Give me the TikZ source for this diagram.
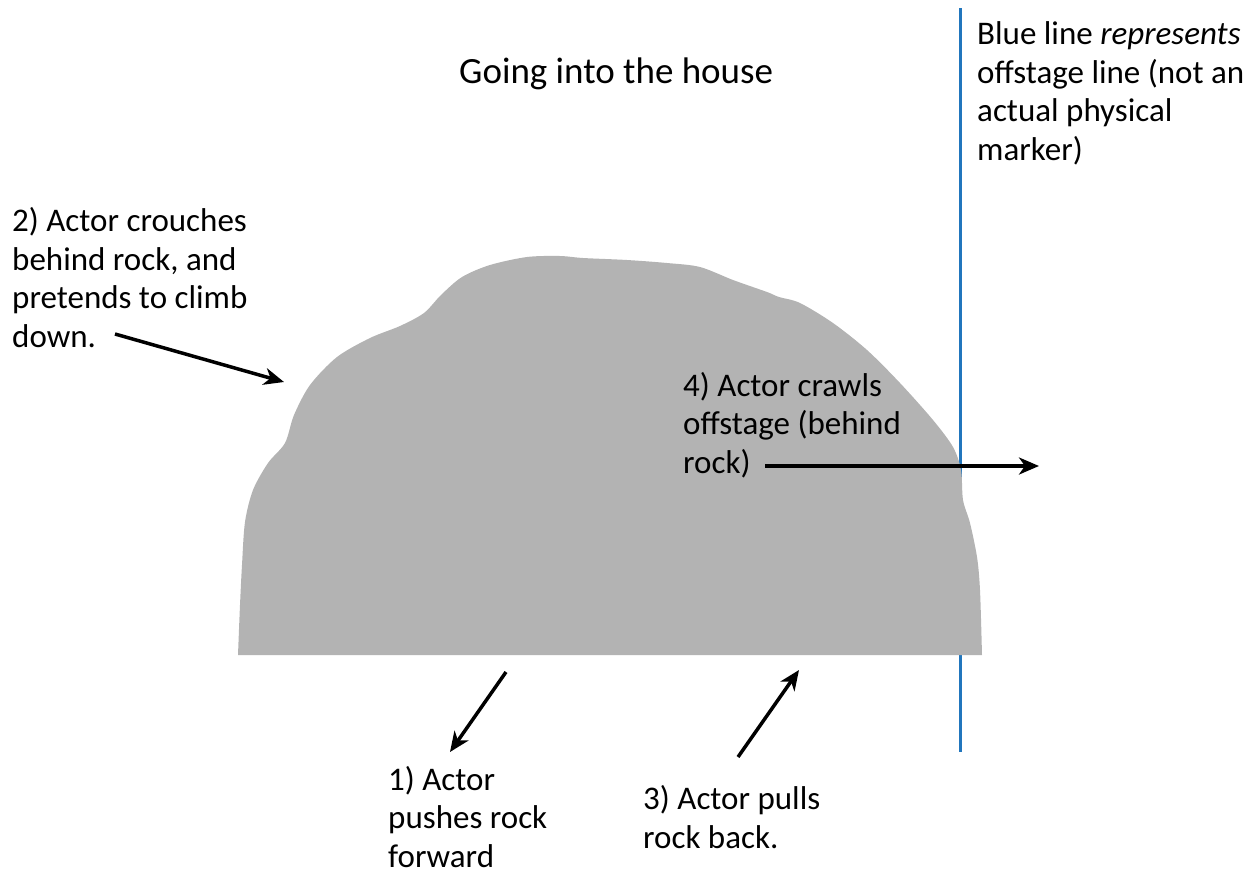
\documentclass[tikz,border=0pt]{standalone}
\usepackage{fontspec}
\setmainfont{Carlito}
\usetikzlibrary{arrows.meta}
\definecolor{rockgray}{RGB}{179,179,179}
\definecolor{lineblue}{RGB}{33,118,189}

\begin{document}
\begin{tikzpicture}[x=1pt, y=-1pt,
  lbl/.style={anchor=base west, inner sep=0pt, align=left,
    font=\fontsize{33}{38.5}\selectfont},
  arr/.style={-{Stealth[length=20pt, width=17pt, inset=6pt]}, line width=3.5pt}]
  \useasboundingbox (0,0) rectangle (1259,873);
  % Offstage line (behind the rock)
  \coordinate (linetop) at (960,8);
  \coordinate (linebot) at (960,752);
  \draw[lineblue, line width=3pt] (linetop) -- (linebot);
  % Rock
  \fill[rockgray] plot[smooth, tension=0.5] coordinates {
    (238,655) (240,605) (242,565) (245,522) (253,490) (268,463)
    (285,443) (294,415) (310,385) (337,357) (370,338) (400,326) (424,313)
    (441,295) (462,277) (490,265) (527,257) (560,256) (583,258) (627,260)
    (667,263) (700,267) (733,280) (767,292) (779,297) (800,303) (833,323)
    (867,350) (900,383) (933,420) (953,447) (961,470) (963,500) (970,523)
    (977,557) (980,590) (982,655)} -- cycle;
  % Titre et notes
  \node[lbl, font=\fontsize{37}{44}\selectfont] (title) at (459,83) {Going into the house};
  \node[lbl] (note) at (977,160) {Blue line \textit{represents}\\offstage line (not an\\actual physical\\marker)};
  \node[lbl] (step2) at (12,347) {2) Actor crouches\\behind rock, and\\pretends to climb\\down.};
  \node[lbl] (step4) at (683,473) {4) Actor crawls\\offstage (behind\\rock)};
  \node[lbl] (step1) at (388,867) {1) Actor\\pushes rock\\forward};
  \node[lbl] (step3) at (643,848) {3) Actor pulls\\rock back.};
  % Arrows
  \coordinate (a2s) at (115,334);
  \coordinate (a2e) at (284,382);
  \coordinate (a4s) at (765,466);
  \coordinate (a4e) at (1039,466);
  \coordinate (a1s) at (506,672);
  \coordinate (a1e) at (450,752);
  \coordinate (a3s) at (738,757);
  \coordinate (a3e) at (799,670);
  \draw[arr] (a2s) -- (a2e);
  \draw[arr] (a4s) -- (a4e);
  \draw[arr] (a1s) -- (a1e);
  \draw[arr] (a3s) -- (a3e);
\end{tikzpicture}
\end{document}
